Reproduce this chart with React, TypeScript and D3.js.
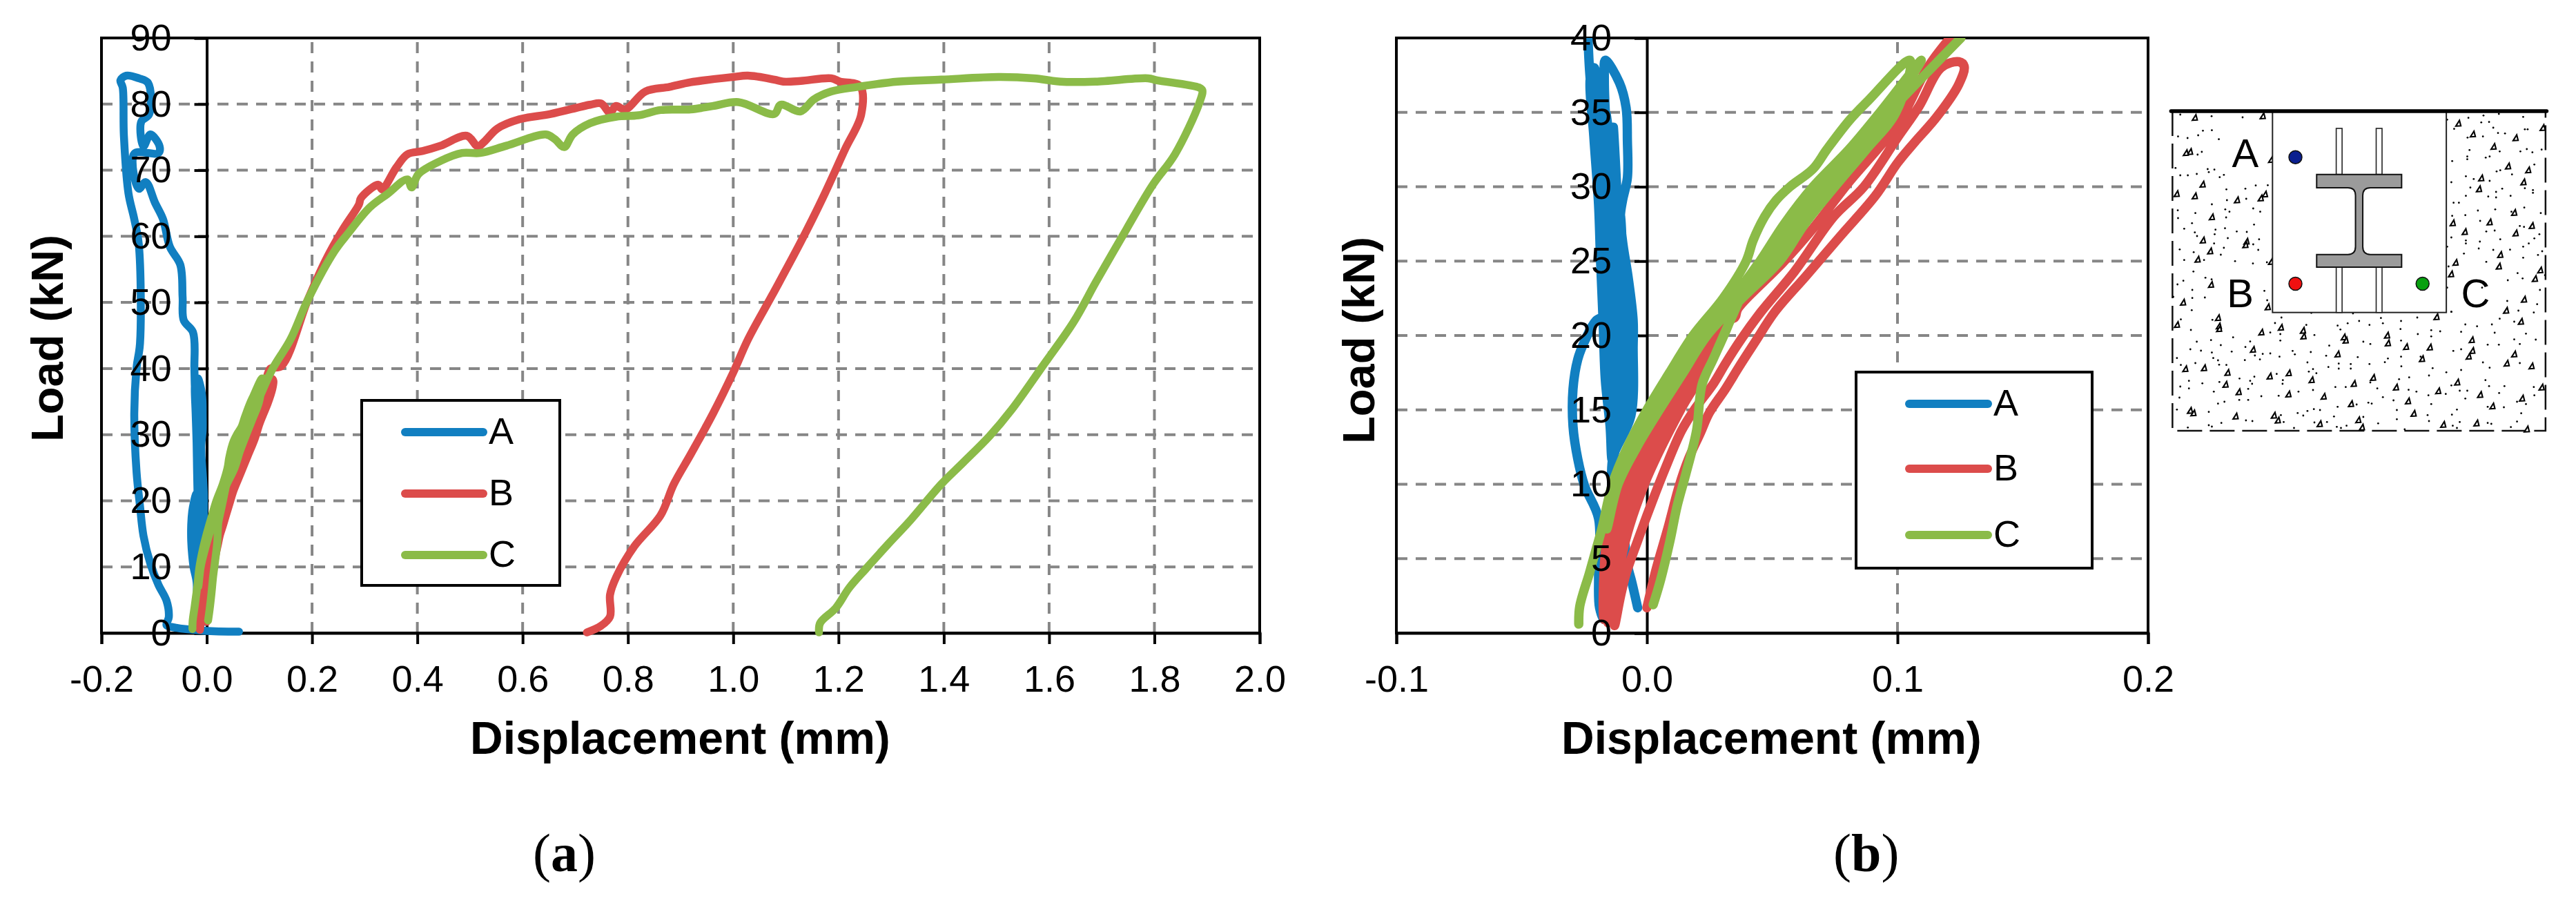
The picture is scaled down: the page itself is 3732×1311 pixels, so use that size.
import * as d3 from 'd3';
import { useEffect, useRef } from 'react';

type Pt = [number, number];

const FONT = '"Liberation Sans", Arial, sans-serif';
const BLUE = '#117fc1';
const RED = '#dc4c4b';
const GREEN = '#8bbb48';

// Displacement (mm), load (kN). The cycles are the part
// shown in panel (b), panel (a) draws the cycles and then the rest of the test.
const cycleA: Pt[] = [
  [-0.0037, 1.7], [-0.006, 3.4], [-0.0078, 4.6], [-0.0092, 6.8], [-0.0115, 10], [-0.0138, 11.6], [-0.0064, 14.6],
  [-0.0055, 19.3], [-0.0055, 21], [-0.0074, 23.8], [-0.0097, 26.3], [-0.0106, 28], [-0.0097, 29.1], [-0.0078, 30.6],
  [-0.0078, 33.1], [-0.0083, 35.3], [-0.011, 37], [-0.0166, 38.5], [-0.017, 37.3], [-0.0161, 33.4], [-0.0147, 30.3],
  [-0.0129, 25.7], [-0.012, 21], [-0.0115, 17], [-0.012, 13], [-0.0138, 11.6], [-0.0147, 13.9], [-0.0166, 17],
  [-0.0175, 21], [-0.0185, 25], [-0.0193, 28.8], [-0.0212, 33.4], [-0.0226, 37.3], [-0.021, 38], [-0.019, 33.4],
  [-0.0175, 29], [-0.016, 25], [-0.0155, 21], [-0.0095, 18], [-0.0085, 15], [-0.009, 19], [-0.0105, 24],
  [-0.0115, 28], [-0.0134, 34], [-0.0125, 29], [-0.0135, 24], [-0.0155, 21.5], [-0.0203, 21], [-0.0249, 19.6],
  [-0.0276, 18.4], [-0.0295, 16.4], [-0.0295, 13.9], [-0.0276, 11.7], [-0.0249, 9.9], [-0.0193, 7.7], [-0.0193, 3.9],
  [-0.0189, 1.7], [-0.017, 0.9], [-0.0135, 3], [-0.0125, 6], [-0.0138, 9], [-0.0138, 11.6], [-0.0085, 15],
  [-0.0085, 19], [-0.0097, 24], [-0.0105, 28], [-0.0135, 31], [-0.0165, 35], [-0.0165, 30], [-0.0129, 25],
  [-0.0115, 20], [-0.0115, 15], [-0.0135, 12], [-0.0135, 14], [-0.0145, 17], [-0.016, 22], [-0.0165, 27],
  [-0.0185, 32], [-0.0225, 37], [-0.0235, 40],
];
const restA: Pt[] = [
  [-0.0262, 45.5], [-0.0437, 47.3], [-0.0459, 50.8], [-0.0503, 55.7], [-0.07, 58.4], [-0.0831, 62.6], [-0.0984, 65.1],
  [-0.1159, 68.2], [-0.129, 67.2], [-0.1377, 72.5], [-0.0918, 72.6], [-0.0896, 73.6], [-0.1071, 75.4], [-0.1202, 73.6],
  [-0.1246, 77.3], [-0.1093, 78.5], [-0.1115, 83.2], [-0.129, 83.9], [-0.153, 84.3], [-0.164, 83.6], [-0.1596, 82.5],
  [-0.1574, 75.2], [-0.1487, 66.5], [-0.1377, 62.6], [-0.129, 58.7], [-0.1268, 43.8], [-0.1334, 40.1], [-0.1377, 33.2],
  [-0.1334, 24.4], [-0.1268, 19.2], [-0.1202, 14.7], [-0.1071, 10.5], [-0.0918, 7.3], [-0.0765, 4.9], [-0.0721, 2.4],
  [-0.0765, 1.2], [-0.0656, 0.9], [-0.0044, 0.35], [0.0612, 0.2],
];
const cycleB: Pt[] = [
  [0, 1.7], [0.0037, 4.3], [0.0083, 7], [0.0129, 9.9], [0.0166, 11.7], [0.0212, 13.4], [0.0249, 14.8], [0.0313, 16.4],
  [0.0368, 17.9], [0.0433, 19.6], [0.0511, 21.6], [0.0635, 24], [0.0773, 26.7], [0.0912, 29.4], [0.1, 31.6],
  [0.1069, 33], [0.1157, 34.7], [0.1245, 36.9], [0.1266, 38.1], [0.1245, 38.4], [0.1174, 38], [0.1086, 35.4],
  [0.1, 33.3], [0.0866, 30], [0.0746, 28], [0.0589, 24.3], [0.0456, 21.6], [0.0378, 19.8], [0.0313, 18.1],
  [0.0267, 16.8], [0.0193, 15.1], [0.0138, 13.6], [0.0074, 11.1], [0.0018, 8.7], [-0.0037, 6.2], [-0.0083, 4],
  [-0.0105, 2.5], [-0.0129, 0.5], [-0.0097, 5.4], [-0.001, 10], [0.0134, 15], [0.0238, 18], [0.0296, 21],
  [0.015, 18], [0.0023, 15], [-0.012, 10], [-0.0166, 5.4], [-0.017, 0.9], [-0.0114, 5.4], [-0.0038, 10],
  [0.0106, 15], [0.0218, 18], [0.0296, 21], [0.0172, 18], [0.005, 15], [-0.0093, 10], [-0.0148, 5.4],
  [-0.0155, 0.7], [-0.0131, 5.4], [-0.0065, 10], [0.0078, 15], [0.0195, 18], [0.0296, 21], [0.035, 21.2],
  [0.0363, 21.8], [0.0543, 24.9], [0.0663, 27.2], [0.0801, 30.2], [0.1004, 34.3], [0.112, 38], [0.121, 40],
];
const restB: Pt[] = [
  [0.142, 40.4], [0.192, 50.4], [0.226, 56.4], [0.259, 61.1], [0.289, 64.8], [0.293, 65.8], [0.326, 67.8],
  [0.333, 67.1], [0.36, 70.4], [0.381, 72.4], [0.41, 72.9], [0.444, 73.7], [0.494, 75.2], [0.515, 73.6], [0.527, 74.3],
  [0.552, 76.3], [0.594, 77.7], [0.653, 78.5], [0.728, 79.9], [0.749, 80.1], [0.766, 78.7], [0.777, 79.7],
  [0.795, 79.2], [0.833, 81.9], [0.879, 82.6], [0.919, 83.3], [1.0, 84.1], [1.028, 84.3], [1.078, 83.7],
  [1.095, 83.4], [1.128, 83.5], [1.186, 83.9], [1.203, 83.4], [1.241, 82.7], [1.243, 78.4], [1.212, 73.1],
  [1.17, 65.8], [1.128, 59.1], [1.074, 51.1], [1.028, 44.4], [1.0, 39.4], [0.961, 33.1], [0.919, 27], [0.887, 22.5],
  [0.862, 17.8], [0.812, 13.1], [0.778, 8.5], [0.766, 5.8], [0.766, 2.5], [0.749, 1.1], [0.722, 0.1],
];
const cycleC: Pt[] = [
  [-0.0272, 0.6], [-0.0268, 1.8], [-0.023, 4], [-0.0205, 5.5], [-0.018, 7], [-0.0138, 10], [-0.0078, 12.5], [0, 15],
  [0.009, 17.5], [0.0184, 20], [0.0304, 22.5], [0.0396, 25], [0.0424, 26.4], [0.047, 28], [0.0516, 29.1], [0.0571, 30],
  [0.0663, 31.2], [0.0718, 32.5], [0.081, 34.5], [0.0884, 35.8], [0.105, 38.5], [0.0994, 35], [0.0875, 32.5],
  [0.075, 30], [0.063, 27.5], [0.053, 25], [0.038, 22.5], [0.024, 20], [0.0145, 17.5], [0.005, 15], [-0.004, 12.5],
  [-0.0115, 10], [-0.016, 7], [-0.0138, 10], [-0.0045, 12.5], [0.0025, 15], [0.011, 17.5], [0.021, 20], [0.034, 22.5],
  [0.0451, 25], [0.0548, 27.5], [0.0663, 30], [0.0806, 32.5], [0.093, 35], [0.1095, 38.5], [0.096, 35], [0.084, 32.5],
  [0.0705, 30], [0.059, 27.5], [0.049, 25], [0.036, 22.5], [0.0327, 20.8], [0.0267, 18.5], [0.022, 16.7],
  [0.0198, 13.6], [0.0157, 10.8], [0.012, 8.5], [0.0092, 6.2], [0.0055, 3.6], [0.0025, 1.9], [0.0055, 3.6],
  [0.0092, 6.2], [0.012, 8.5], [0.0157, 10.8], [0.0198, 13.6], [0.022, 16.7], [0.0267, 18.5], [0.0327, 20.8],
  [0.042, 24], [0.052, 26], [0.0675, 29.7], [0.0994, 35.5], [0.1253, 40],
];
const restC: Pt[] = [
  [0.159, 44.4], [0.192, 50.4], [0.243, 57.8], [0.268, 60.4], [0.31, 64.4], [0.343, 66.4], [0.381, 68.6], [0.389, 67.4],
  [0.402, 69.4], [0.444, 71.4], [0.485, 72.6], [0.519, 72.6], [0.569, 73.7], [0.644, 75.4], [0.661, 74.7],
  [0.679, 73.5], [0.695, 75.4], [0.728, 77.1], [0.778, 78.1], [0.82, 78.3], [0.862, 79.1], [0.919, 79.2], [0.961, 79.7],
  [1.01, 80.3], [1.078, 78.5], [1.09, 79.9], [1.128, 78.9], [1.153, 80.7], [1.186, 81.9], [1.236, 82.6], [1.312, 83.4],
  [1.395, 83.7], [1.504, 84.1], [1.571, 83.9], [1.621, 83.4], [1.688, 83.4], [1.788, 83.9], [1.805, 83.6],
  [1.885, 82.5], [1.891, 82.1], [1.885, 80.1], [1.839, 72.4], [1.797, 67.8], [1.747, 61.1], [1.689, 53.1],
  [1.647, 47.1], [1.588, 40.4], [1.529, 33.8], [1.487, 29.8], [1.437, 25.8], [1.395, 22.5], [1.337, 17.1],
  [1.295, 13.5], [1.253, 9.8], [1.22, 6.8], [1.195, 3.8], [1.165, 1.5], [1.163, 0.1],
];

const seriesNames = ['A', 'B', 'C'];
const seriesColors = [BLUE, RED, GREEN];
const xTicksA = [-0.2, 0, 0.2, 0.4, 0.6, 0.8, 1.0, 1.2, 1.4, 1.6, 1.8, 2.0];
const yTicksA = [0, 10, 20, 30, 40, 50, 60, 70, 80, 90];
const xTicksB = [-0.1, 0, 0.1, 0.2];
const yTicksB = [0, 5, 10, 15, 20, 25, 30, 35, 40];

// Speckle of the concrete in the small sketch, measured in sketch units
const gravel: Pt[] = [
  [197, 122], [440, 115], [180, 270], [165, 275], [470, 305], [225, 412], [132, 453], [197, 463], [348, 480], [448, 455],
  [433, 472], [258, 554], [226, 655], [382, 660], [378, 675], [252, 702], [207, 738], [470, 748], [255, 848], [155, 925],
  [458, 945], [280, 992], [133, 1022], [283, 1028], [284, 1040], [435, 1055], [505, 1034], [584, 1047], [586, 1072],
  [730, 1076], [737, 1090], [885, 1068], [888, 1102], [953, 1118], [1038, 1120], [405, 1130], [708, 1150], [1010, 1170],
  [1188, 1088], [1190, 1135], [1177, 1160], [1340, 1150], [1313, 1190], [1402, 1202], [163, 1214], [230, 1210], [314, 1230],
  [465, 1246], [533, 1232], [615, 1262], [835, 1252], [766, 1278], [917, 1294], [1136, 1272], [1068, 1310], [1218, 1326],
  [1438, 1294], [1368, 1342], [307, 1282], [354, 1314], [532, 1324], [658, 1334], [756, 1366], [960, 1354], [1262, 1376],
  [180, 1395], [192, 1406], [343, 1420], [480, 1416], [494, 1437], [644, 1453], [782, 1436], [795, 1468], [980, 1408],
  [1205, 1450], [1086, 1456], [1385, 1476], [1140, 147], [1192, 194], [1345, 210], [1266, 248], [1318, 333], [1390, 350],
  [1442, 166], [1222, 385], [1373, 402], [1214, 432], [1120, 580], [1252, 576], [1403, 592], [1163, 618], [1345, 624],
  [1290, 718], [1130, 752], [1285, 768], [1433, 785], [1114, 802], [1414, 822], [1375, 912], [1311, 960], [1364, 1008],
  [1062, 988], [1340, 535],
];
const grit: Pt[] = [
  [145, 108], [257, 115], [368, 120], [137, 203], [171, 210], [209, 198], [226, 178], [258, 176], [283, 215], [222, 270],
  [207, 282], [128, 340], [243, 345], [267, 347], [145, 372], [172, 372], [204, 366], [247, 358], [286, 380], [301, 370],
  [310, 433], [378, 430], [415, 416], [458, 415], [312, 480], [381, 474], [258, 498], [406, 516], [136, 524], [306, 520],
  [199, 536], [321, 530], [431, 530], [137, 558], [309, 555], [187, 580], [409, 586], [159, 604], [271, 608], [305, 602],
  [197, 620], [347, 616], [383, 618], [268, 628], [205, 636], [315, 645], [427, 650], [266, 668], [406, 672], [143, 694],
  [301, 687], [424, 696], [193, 706], [290, 717], [159, 740], [230, 740], [341, 745], [405, 755], [455, 750], [192, 790],
  [235, 817], [257, 824], [156, 830], [135, 846], [188, 870], [446, 874], [120, 900], [188, 905], [233, 903], [456, 915],
  [186, 958], [147, 998], [260, 1000], [183, 1044], [507, 990], [614, 970], [763, 972], [863, 992], [993, 990], [1115, 965],
  [484, 1014], [596, 1022], [708, 1025], [744, 1015], [785, 1005], [822, 1022], [870, 1015], [935, 1005], [1043, 1045],
  [1075, 1050], [467, 1055], [503, 1062], [625, 1066], [718, 1042], [933, 1040], [995, 1062], [1043, 1072], [334, 1076],
  [503, 1090], [255, 1088], [204, 1095], [395, 1094], [678, 1112], [800, 1095], [825, 1105], [935, 1090], [290, 1110],
  [378, 1118], [181, 1128], [219, 1134], [329, 1138], [547, 1135], [612, 1140], [1150, 1128], [258, 1142], [412, 1155],
  [440, 1148], [467, 1146], [555, 1150], [667, 1156], [780, 1162], [888, 1168], [935, 1160], [1005, 1160], [133, 1166],
  [263, 1166], [500, 1160], [280, 1176], [376, 1175], [430, 1172], [600, 1185], [712, 1190], [755, 1192], [822, 1192],
  [877, 1184], [1228, 1185], [199, 1188], [147, 1196], [284, 1195], [310, 1196], [1360, 1188], [936, 1202], [675, 1205],
  [712, 1212], [755, 1212], [1048, 1210], [620, 1214], [1252, 1208], [605, 1225], [632, 1232], [1097, 1228], [1150, 1218],
  [490, 1235], [1035, 1242], [410, 1247], [964, 1250], [357, 1255], [512, 1262], [176, 1265], [395, 1265], [285, 1270],
  [928, 1258], [1237, 1262], [825, 1272], [402, 1278], [511, 1278], [224, 1276], [145, 1290], [700, 1292], [737, 1292],
  [1115, 1285], [1250, 1288], [1305, 1288], [1410, 1292], [176, 1298], [388, 1300], [850, 1298], [620, 1305], [568, 1312],
  [962, 1304], [990, 1312], [1145, 1308], [1172, 1308], [265, 1312], [1286, 1318], [1033, 1328], [1095, 1322], [435, 1332],
  [497, 1330], [1412, 1328], [142, 1338], [870, 1336], [1165, 1342], [356, 1348], [388, 1348], [908, 1350], [1350, 1356],
  [818, 1360], [830, 1364], [776, 1368], [1043, 1366], [1382, 1366], [280, 1364], [303, 1356], [708, 1378], [1135, 1390],
  [1245, 1378], [1303, 1380], [133, 1390], [623, 1388], [600, 1396], [645, 1392], [565, 1405], [920, 1392], [247, 1400],
  [505, 1414], [1365, 1406], [1030, 1414], [585, 1416], [695, 1420], [1117, 1412], [380, 1437], [403, 1440], [920, 1432],
  [1035, 1440], [1350, 1442], [292, 1448], [800, 1422], [853, 1450], [515, 1444], [1145, 1444], [1245, 1448], [247, 1458],
  [625, 1446], [670, 1444], [258, 1464], [740, 1460], [1120, 1460], [1258, 1452], [172, 1468], [705, 1465], [552, 1470],
  [720, 1470], [948, 1476], [1328, 1466], [1135, 1470], [1100, 130], [1176, 122], [1230, 112], [1285, 105], [1372, 118],
  [1222, 142], [1250, 140], [1125, 170], [1265, 165], [1282, 188], [1307, 190], [1378, 172], [1388, 172], [1228, 203],
  [1173, 208], [1180, 262], [1288, 268], [1362, 268], [1385, 258], [1405, 272], [1438, 260], [1172, 290], [1238, 295],
  [1252, 290], [1172, 302], [1118, 310], [1412, 325], [1277, 355], [1290, 350], [1332, 368], [1167, 376], [1195, 388],
  [1115, 402], [1252, 396], [1183, 425], [1297, 430], [1378, 428], [1407, 436], [1247, 464], [1275, 444], [1407, 448],
  [1167, 461], [1275, 468], [1327, 461], [1123, 491], [1142, 491], [1376, 512], [1210, 525], [1272, 520], [1330, 530],
  [1118, 548], [1165, 545], [1435, 536], [1218, 570], [1360, 592], [1375, 596], [1240, 616], [1270, 612], [1115, 642],
  [1167, 655], [1217, 660], [1290, 650], [1430, 628], [1412, 646], [1167, 668], [1100, 682], [1213, 690], [1265, 696],
  [1325, 695], [1392, 668], [1372, 682], [1160, 712], [1440, 702], [1425, 718], [1240, 748], [1372, 730], [1105, 768],
  [1352, 797], [1450, 806], [1370, 820], [1317, 828], [1225, 860], [1100, 860], [1432, 870], [1315, 918], [1115, 965],
  [1355, 960], [1410, 968], [1422, 932], [1288, 995], [1340, 1008], [1165, 1020], [1207, 1028], [1260, 1020], [1150, 1052],
  [1270, 1056], [1382, 1060], [1340, 1085], [1417, 1086], [1245, 1108], [1285, 1108], [1360, 1105], [1122, 1135],
];

const line = (x: d3.ScaleLinear<number, number>, y: d3.ScaleLinear<number, number>) =>
  d3.line<Pt>().x(d => x(d[0])).y(d => y(d[1])).curve(d3.curveCatmullRom.alpha(0.5));

function drawPanel(
  svg: d3.Selection<SVGSVGElement, unknown, null, undefined>,
  opt: {
    id: string; left: number; right: number; xDomain: [number, number]; yMax: number;
    xTicks: number[]; yTicks: number[]; curves: Pt[][];
    box: [number, number, number, number]; keyX: [number, number]; keyY: number[];
    loadX: number; loadY: number; titleX: number; stroke: number;
  },
) {
  const top = 55, bottom = 917;
  const x = d3.scaleLinear().domain(opt.xDomain).range([opt.left, opt.right]);
  const y = d3.scaleLinear().domain([0, opt.yMax]).range([bottom, top]);
  const g = svg.append('g');

  // dashed grid
  const grid = g.append('g').attr('stroke', '#868686').attr('stroke-width', 4).attr('stroke-dasharray', '16 12');
  opt.xTicks.filter(t => t !== 0 && t !== opt.xDomain[0] && t !== opt.xDomain[1]).forEach(t => {
    grid.append('line').attr('x1', x(t)).attr('x2', x(t)).attr('y1', bottom).attr('y2', top);
  });
  opt.yTicks.filter(t => t !== 0 && t !== opt.yMax).forEach(t => {
    grid.append('line').attr('x1', opt.left).attr('x2', opt.right).attr('y1', y(t)).attr('y2', y(t));
  });

  // frame and tick marks
  g.append('rect').attr('x', opt.left).attr('y', top).attr('width', opt.right - opt.left).attr('height', bottom - top)
    .attr('fill', 'none').attr('stroke', '#000').attr('stroke-width', 4);
  const xMarks = g.append('g').attr('transform', `translate(0,${bottom})`)
    .call(d3.axisBottom(x).tickValues(opt.xTicks).tickSize(16).tickFormat(() => ''));
  const yMarks = g.append('g').attr('transform', `translate(${x(0)},0)`)
    .call(d3.axisLeft(y).tickValues(opt.yTicks).tickSize(18).tickFormat(() => ''));
  [xMarks, yMarks].forEach(a => {
    a.selectAll('line').attr('stroke', '#000').attr('stroke-width', 4);
    a.select('.domain').attr('stroke', '#000').attr('stroke-width', 4);
  });

  // curves, cut at the top of the plot
  const clipId = `clip-${opt.id}`;
  svg.append('clipPath').attr('id', clipId).append('rect')
    .attr('x', 0).attr('y', top).attr('width', 3732).attr('height', 1311 - top);
  const path = line(x, y);
  g.append('g').attr('clip-path', `url(#${clipId})`).selectAll('path').data(opt.curves).enter().append('path')
    .attr('d', d => path(d))
    .attr('fill', 'none')
    .attr('stroke', (_, i) => seriesColors[i])
    .attr('stroke-width', opt.stroke)
    .attr('stroke-linejoin', 'round')
    .attr('stroke-linecap', 'round');

  // tick labels lie over the curves
  const xText = g.append('g').attr('transform', `translate(0,${bottom})`)
    .call(d3.axisBottom(x).tickValues(opt.xTicks).tickSize(0).tickPadding(47).tickFormat(d => (+d).toFixed(1)));
  const yText = g.append('g').attr('transform', `translate(${x(0)},0)`)
    .call(d3.axisLeft(y).tickValues(opt.yTicks).tickSize(0).tickPadding(51).tickFormat(d => String(d)));
  [xText, yText].forEach(a => {
    a.select('.domain').remove();
    a.selectAll('text').attr('font-family', FONT).attr('font-size', 54).attr('fill', '#000');
  });

  // legend
  const [bx, by, bw, bh] = opt.box;
  g.append('rect').attr('x', bx).attr('y', by).attr('width', bw).attr('height', bh)
    .attr('fill', '#fff').attr('stroke', '#000').attr('stroke-width', 4);
  seriesNames.forEach((name, i) => {
    g.append('line').attr('x1', opt.keyX[0]).attr('x2', opt.keyX[1]).attr('y1', opt.keyY[i]).attr('y2', opt.keyY[i])
      .attr('stroke', seriesColors[i]).attr('stroke-width', 12).attr('stroke-linecap', 'round');
    g.append('text').attr('x', opt.keyX[1] + 8).attr('y', opt.keyY[i] + 17).text(name)
      .attr('font-family', FONT).attr('font-size', 54);
  });

  // axis titles
  g.append('text').attr('x', opt.titleX).attr('y', 1092).text('Displacement (mm)')
    .attr('font-family', FONT).attr('font-size', 66).attr('font-weight', 'bold');
  g.append('text').attr('transform', `translate(${opt.loadX},${opt.loadY}) rotate(-90)`).text('Load (kN)')
    .attr('text-anchor', 'middle').attr('font-family', FONT).attr('font-size', 65).attr('font-weight', 'bold');
}

function drawSketch(svg: d3.Selection<SVGSVGElement, unknown, null, undefined>) {
  // sketch units: 1 unit is 1/2.47 px across and 1/3 px down
  const sx = d3.scaleLinear().domain([0, 1000]).range([3100, 3100 + 1000 / 2.47]);
  const sy = d3.scaleLinear().domain([0, 1000]).range([130, 130 + 1000 / 3]);
  const g = svg.append('g');

  const outline = d3.path();
  outline.moveTo(sx(117), sy(93));
  outline.lineTo(sx(117), sy(1482));
  outline.lineTo(sx(1452), sy(1482));
  outline.lineTo(sx(1452), sy(93));
  g.append('path').attr('d', outline.toString()).attr('fill', 'none').attr('stroke', '#111').attr('stroke-width', 2.5)
    .attr('stroke-dasharray', '36 11');

  g.append('g').selectAll('circle').data(grit).enter().append('circle')
    .attr('cx', d => sx(d[0])).attr('cy', d => sy(d[1])).attr('r', 1.4).attr('fill', '#000');
  g.append('g').selectAll('path').data(gravel).enter().append('path')
    .attr('d', d => {
      const px = sx(d[0]), py = sy(d[1]);
      return `M${px - 3.6},${py + 3.6}L${px + 3.6},${py + 3.2}L${px + 1.6},${py - 4.6}Z`;
    })
    .attr('fill', '#fff').attr('stroke', '#000').attr('stroke-width', 2.1);

  // pocket with the steel section
  g.append('rect').attr('x', sx(475)).attr('y', sy(93)).attr('width', sx(1097) - sx(475)).attr('height', sy(968) - sy(93))
    .attr('fill', '#fff').attr('stroke', '#222').attr('stroke-width', 2);
  g.append('line').attr('x1', sx(112)).attr('x2', sx(1456)).attr('y1', sy(93)).attr('y2', sy(93))
    .attr('stroke', '#000').attr('stroke-width', 5.5).attr('stroke-linecap', 'round');

  [703, 846].forEach(u => {
    g.append('rect').attr('x', sx(u)).attr('y', sy(168)).attr('width', sx(u + 21) - sx(u)).attr('height', sy(368) - sy(168))
      .attr('fill', '#fff').attr('stroke', '#222').attr('stroke-width', 1.6);
    g.append('rect').attr('x', sx(u)).attr('y', sy(771)).attr('width', sx(u + 21) - sx(u)).attr('height', sy(968) - sy(771))
      .attr('fill', '#fff').attr('stroke', '#222').attr('stroke-width', 1.6);
  });

  const beam = d3.path();
  beam.moveTo(sx(633), sy(368));
  beam.lineTo(sx(937), sy(368));
  beam.lineTo(sx(937), sy(426));
  beam.lineTo(sx(825), sy(426));
  beam.quadraticCurveTo(sx(798), sy(426), sx(798), sy(460));
  beam.lineTo(sx(798), sy(682));
  beam.quadraticCurveTo(sx(798), sy(716), sx(825), sy(716));
  beam.lineTo(sx(937), sy(716));
  beam.lineTo(sx(937), sy(771));
  beam.lineTo(sx(633), sy(771));
  beam.lineTo(sx(633), sy(716));
  beam.lineTo(sx(745), sy(716));
  beam.quadraticCurveTo(sx(772), sy(716), sx(772), sy(682));
  beam.lineTo(sx(772), sy(460));
  beam.quadraticCurveTo(sx(772), sy(426), sx(745), sy(426));
  beam.lineTo(sx(633), sy(426));
  beam.closePath();
  g.append('path').attr('d', beam.toString()).attr('fill', '#9b9b9b').attr('stroke', '#111').attr('stroke-width', 2);

  const gauges: [number, number, string][] = [[557, 293, '#0a1f8f'], [557, 843, '#f01010'], [1012, 843, '#08a010']];
  gauges.forEach(([u, v, c]) => {
    g.append('circle').attr('cx', sx(u)).attr('cy', sy(v)).attr('r', 9.5).attr('fill', c).attr('stroke', '#111').attr('stroke-width', 1.5);
  });

  const marks: [string, number, number][] = [['A', 330, 335], ['B', 312, 945], ['C', 1150, 945]];
  marks.forEach(([t, u, v]) => {
    g.append('text').attr('x', sx(u)).attr('y', sy(v)).text(t).attr('font-family', FONT).attr('font-size', 58);
  });
}

const App = () => {
  const ref = useRef<SVGSVGElement>(null);

  useEffect(() => {
    const svg = d3.select(ref.current!);
    svg.selectAll('*').remove();
    svg.append('rect').attr('width', 3732).attr('height', 1311).attr('fill', '#fff');

    drawPanel(svg, {
      id: 'a', left: 147, right: 1825, xDomain: [-0.2, 2.0], yMax: 90,
      xTicks: xTicksA, yTicks: yTicksA,
      curves: [[...cycleA, ...restA], [...cycleB, ...restB], [...cycleC, ...restC]],
      box: [524, 580, 287, 268], keyX: [587, 700], keyY: [626, 715, 804],
      loadX: 91, loadY: 490, titleX: 681, stroke: 11.5,
    });
    drawPanel(svg, {
      id: 'b', left: 2023, right: 3112, xDomain: [-0.1, 0.2], yMax: 40,
      xTicks: xTicksB, yTicks: yTicksB,
      curves: [cycleA, cycleB, cycleC],
      box: [2689, 539, 342, 284], keyX: [2766, 2880], keyY: [585, 679, 775],
      loadX: 1991, loadY: 493, titleX: 2262, stroke: 13.5,
    });
    drawSketch(svg);

    // sub-figure captions
    const captions: [string, number][] = [['a', 772], ['b', 2656]];
    captions.forEach(([letter, px]) => {
      const t = svg.append('text').attr('x', px).attr('y', 1262)
        .attr('font-family', '"Liberation Serif", serif').attr('font-size', 78);
      t.append('tspan').text('(');
      t.append('tspan').attr('font-weight', 'bold').text(letter);
      t.append('tspan').text(')');
    });
  }, []);

  return (
    <svg ref={ref} width={3732} height={1311} viewBox="0 0 3732 1311"
      style={{ position: 'absolute', left: 0, top: 0, display: 'block' }} />
  );
};

export default App;
